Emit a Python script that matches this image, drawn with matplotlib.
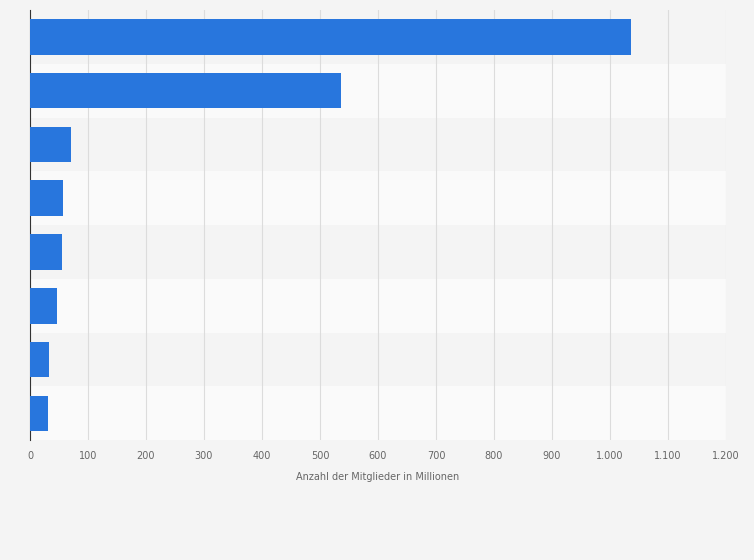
import matplotlib.pyplot as plt
import matplotlib.ticker as mticker

values = [1036, 536, 71, 57, 55, 47, 33, 31]
xticks = [0, 100, 200, 300, 400, 500, 600, 700, 800, 900, 1000, 1100, 1200]

fig = plt.figure(figsize=(7.54, 5.6), dpi=100)
fig.patch.set_facecolor('#f4f4f4')
ax = fig.add_axes([0.0398, 0.214, 0.923, 0.768])
ax.set_facecolor('#f4f4f4')

n = len(values)
for i in range(n):
    ax.axhspan(i - 0.5, i + 0.5, color='#f4f4f4' if i % 2 == 0 else '#fafafa', zorder=0, lw=0)

ax.barh(range(n), values, height=0.66, color='#2876dd', zorder=3)
ax.set_ylim(n - 0.5, -0.5)
ax.set_xlim(0, 1200)
ax.set_xticks(xticks)
ax.xaxis.set_major_formatter(mticker.FuncFormatter(lambda v, p: f'{int(v):,}'.replace(',', '.')))
ax.tick_params(axis='x', labelsize=7, colors='#666666', length=0, pad=8)
ax.set_yticks([])
ax.grid(axis='x', color='#dcdcdc', lw=0.8, zorder=1)
for s in ['top', 'right', 'bottom']:
    ax.spines[s].set_visible(False)
ax.spines['left'].set_color('#333333')
ax.set_xlabel('Anzahl der Mitglieder in Millionen', fontsize=7, color='#666666', labelpad=8)

fig.savefig('out.png', dpi=100, facecolor=fig.get_facecolor())
